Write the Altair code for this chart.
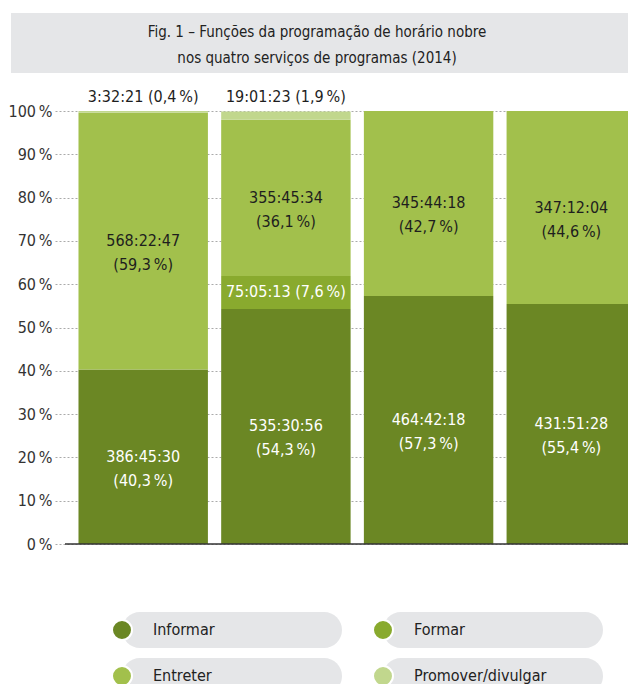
import altair as alt
import pandas as pd

# ---------------- data ----------------
channels = ["RTP1", "RTP2", "SIC", "TVI"]
categories = ["Informar", "Formar", "Entreter", "Promover/divulgar"]
colors = ["#6b8724", "#89aa2e", "#a2c04c", "#c1d78d"]

pct_informar = [40.3, 54.3, 57.3, 55.4]
pct_formar = [0.0, 7.6, 0.0, 0.0]
pct_entreter = [59.3, 36.1, 42.7, 44.6]
pct_promover = [0.4, 1.9, 0.0, 0.0]

time_informar = ["386:45:30", "535:30:56", "464:42:18", "431:51:28"]
time_formar = ["", "75:05:13", "", ""]
time_entreter = ["568:22:47", "355:45:34", "345:44:18", "347:12:04"]
time_promover = ["3:32:21", "19:01:23", "", ""]

y_ticks = [0, 10, 20, 30, 40, 50, 60, 70, 80, 90, 100]
title_lines = [
    "Fig. 1 – Funções da programação de horário nobre",
    "nos quatro serviços de programas (2014)",
]

FONT = "DejaVu Sans Condensed, DejaVu Sans, sans-serif"
NBSP = "\u202f"

# ---------------- tables ----------------
series = [
    (categories[0], pct_informar, time_informar),
    (categories[1], pct_formar, time_formar),
    (categories[2], pct_entreter, time_entreter),
    (categories[3], pct_promover, time_promover),
]
rows = []
for i, ch in enumerate(channels):
    acc = 0.0
    for cat, pcts, times in series:
        v = pcts[i]
        if v <= 0:
            continue
        p = "(" + f"{v:.1f}".replace(".", ",") + NBSP + "%)"
        rows.append(dict(channel=ch, cat=cat, start=acc, end=acc + v, mid=acc + v / 2,
                         two=times[i] + "\n" + p, one=times[i] + " " + p))
        acc += v
df = pd.DataFrame(rows)

legend_df = pd.DataFrame({
    "cat": categories,
    "col": [i % 2 for i in range(len(categories))],
    "row": [i // 2 for i in range(len(categories))],
})
title_df = pd.DataFrame({"t": ["\n".join(title_lines)]})

W, H = 573, 433      # visible plot area (page is 636 px wide)
XR = 581             # the band range runs slightly past the page edge, as in the original crop

xscale = alt.Scale(domain=channels, range=[0, XR], paddingInner=0.093,
                   paddingOuter=0.0823, align=1)
yscale = alt.Scale(domain=[0, 100], nice=False)
cscale = alt.Scale(domain=categories, range=colors)

X = alt.X("channel:N", scale=xscale, sort=None,
          axis=alt.Axis(title=None, domain=False, ticks=True, tickSize=11, tickColor="#333",
                        tickWidth=1.5, labelAngle=0, labelFontSize=16, labelColor="#222",
                        labelPadding=18, grid=False))
Xn = alt.X("channel:N", scale=xscale, sort=None, axis=None)

# ---------------- main plot ----------------
title_box = alt.Chart(title_df).mark_rect(color="#e5e6e8").encode(
    x=alt.value(-44), x2=alt.value(XR), y=alt.value(-98), y2=alt.value(-38))
title_text = alt.Chart(title_df).mark_text(
    lineBreak="\n", lineHeight=26, fontSize=15, color="#222", align="center",
    baseline="alphabetic").encode(x=alt.value(262), y=alt.value(-74), text="t:N")

base = alt.Chart(df)
bars = base.mark_bar().encode(
    x=X,
    y=alt.Y("start:Q", scale=yscale,
            axis=alt.Axis(title=None, values=y_ticks, labelExpr="datum.value + '" + NBSP + "%'",
                          domain=False, ticks=False, labelPadding=3, labelFontSize=16,
                          labelColor="#333", grid=True, gridDash=[2, 2], gridColor="#aaa",
                          gridWidth=1)),
    y2="end:Q",
    color=alt.Color("cat:N", scale=cscale, legend=None),
)

lab_inf = base.transform_filter(alt.datum.cat == categories[0]).mark_text(
    lineBreak="\n", lineHeight=24, fontSize=16, color="white", baseline="middle").encode(
    x=Xn, y=alt.Y("mid:Q", scale=yscale), text="two:N")
lab_form = base.transform_filter(alt.datum.cat == categories[1]).mark_text(
    fontSize=16, color="white", baseline="middle").encode(
    x=Xn, y=alt.Y("mid:Q", scale=yscale), text="one:N")
lab_ent = base.transform_filter(alt.datum.cat == categories[2]).mark_text(
    lineBreak="\n", lineHeight=24, fontSize=16, color="#1e1e1e", baseline="middle").encode(
    x=Xn, y=alt.Y("mid:Q", scale=yscale), text="two:N")
lab_prom = base.transform_filter(alt.datum.cat == categories[3]).mark_text(
    fontSize=16, color="#1e1e1e", baseline="alphabetic", dy=-9).encode(
    x=Xn, y=alt.Y("end:Q", scale=yscale), text="one:N")

zero_rule = alt.Chart(title_df).mark_rule(color="#333", strokeWidth=1.5).encode(
    x=alt.value(10), x2=alt.value(XR), y=alt.datum(0, scale=yscale))

main = alt.layer(title_box, title_text, bars, lab_inf, lab_form, lab_ent, lab_prom, zero_rule)

# ---------------- legend ----------------
LX = alt.X("col:Q", scale=alt.Scale(domain=[0, 1], range=[67, 328]), axis=None)
LY = alt.Y("row:Q", scale=alt.Scale(domain=[0, 1], range=[519, 565]), axis=None)
lbase = alt.Chart(legend_df)
pills = lbase.mark_rect(color="#e5e6e8", cornerRadius=18, x2Offset=220,
                        yOffset=-18, y2Offset=18).encode(x=LX, x2="col:Q", y=LY, y2="row:Q")
dots = lbase.mark_point(filled=True, size=400, stroke="white", strokeWidth=2,
                        opacity=1, shape="circle").encode(
    x=LX, y=LY, fill=alt.Fill("cat:N", scale=cscale, legend=None))
ltext = lbase.mark_text(align="left", baseline="middle", dx=31, fontSize=16,
                        color="#222").encode(x=LX, y=LY, text="cat:N")
legend = alt.layer(pills, dots, ltext)

chart = alt.layer(main, legend).resolve_scale(x="independent", y="independent").properties(
    width=W, height=H,
    autosize=alt.AutoSizeParams(type="none"),
    padding={"left": 47, "top": 103, "right": 0, "bottom": 140},
).configure_view(stroke=None).configure_axis(labelFont=FONT).configure_text(font=FONT)

chart.save("out.html", embed_options={"renderer": "svg", "actions": False})
